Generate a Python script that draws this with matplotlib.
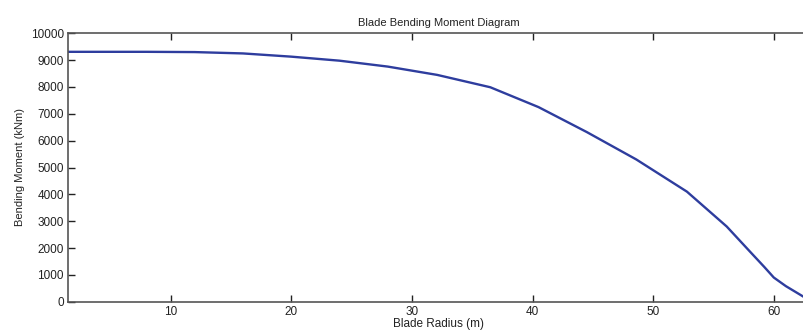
import numpy as np
import matplotlib.pyplot as plt

plt.rcParams['font.family'] = ['Liberation Sans', 'DejaVu Sans']

# bending moment along the blade
radius = [1.5, 4, 8, 12, 16, 20, 24, 28, 32.1, 36.5, 40.5, 44.5, 48.6, 52.8, 56.1, 58.1, 59.2, 60, 61, 62, 63]
moment = [9310, 9310, 9310, 9300, 9250, 9130, 8980, 8760, 8450, 7990, 7250, 6320, 5300, 4100, 2800, 1830, 1300, 900, 580, 310, 40]

x_ticks = [10, 20, 30, 40, 50, 60]
y_ticks = np.arange(0, 10001, 1000)

fig = plt.figure(figsize=(8.04, 3.36), dpi=100)
ax = fig.add_axes([68 / 804, 1 - 301.7 / 336, 742 / 804, 268.4 / 336])

ax.plot(radius, moment, color='#2e3d9e', linewidth=1.7)

ax.set_xlim(1.5, 63)
ax.set_ylim(0, 10000)
ax.set_xticks(x_ticks)
ax.set_yticks(y_ticks)
ax.tick_params(direction='in', length=5, width=1, top=True, right=True,
               labelsize=8.5, colors='#222222', pad=3)
for s in ax.spines.values():
    s.set_color('#555555')
    s.set_linewidth(1.2)

ax.set_title('Blade Bending Moment Diagram', fontsize=8, color='#222222', pad=5)
ax.set_xlabel('Blade Radius (m)', fontsize=8.5, color='#222222', labelpad=0)
ax.set_ylabel('Bending Moment (kNm)', fontsize=8, color='#222222', labelpad=4)

fig.savefig('out.png', dpi=100)
